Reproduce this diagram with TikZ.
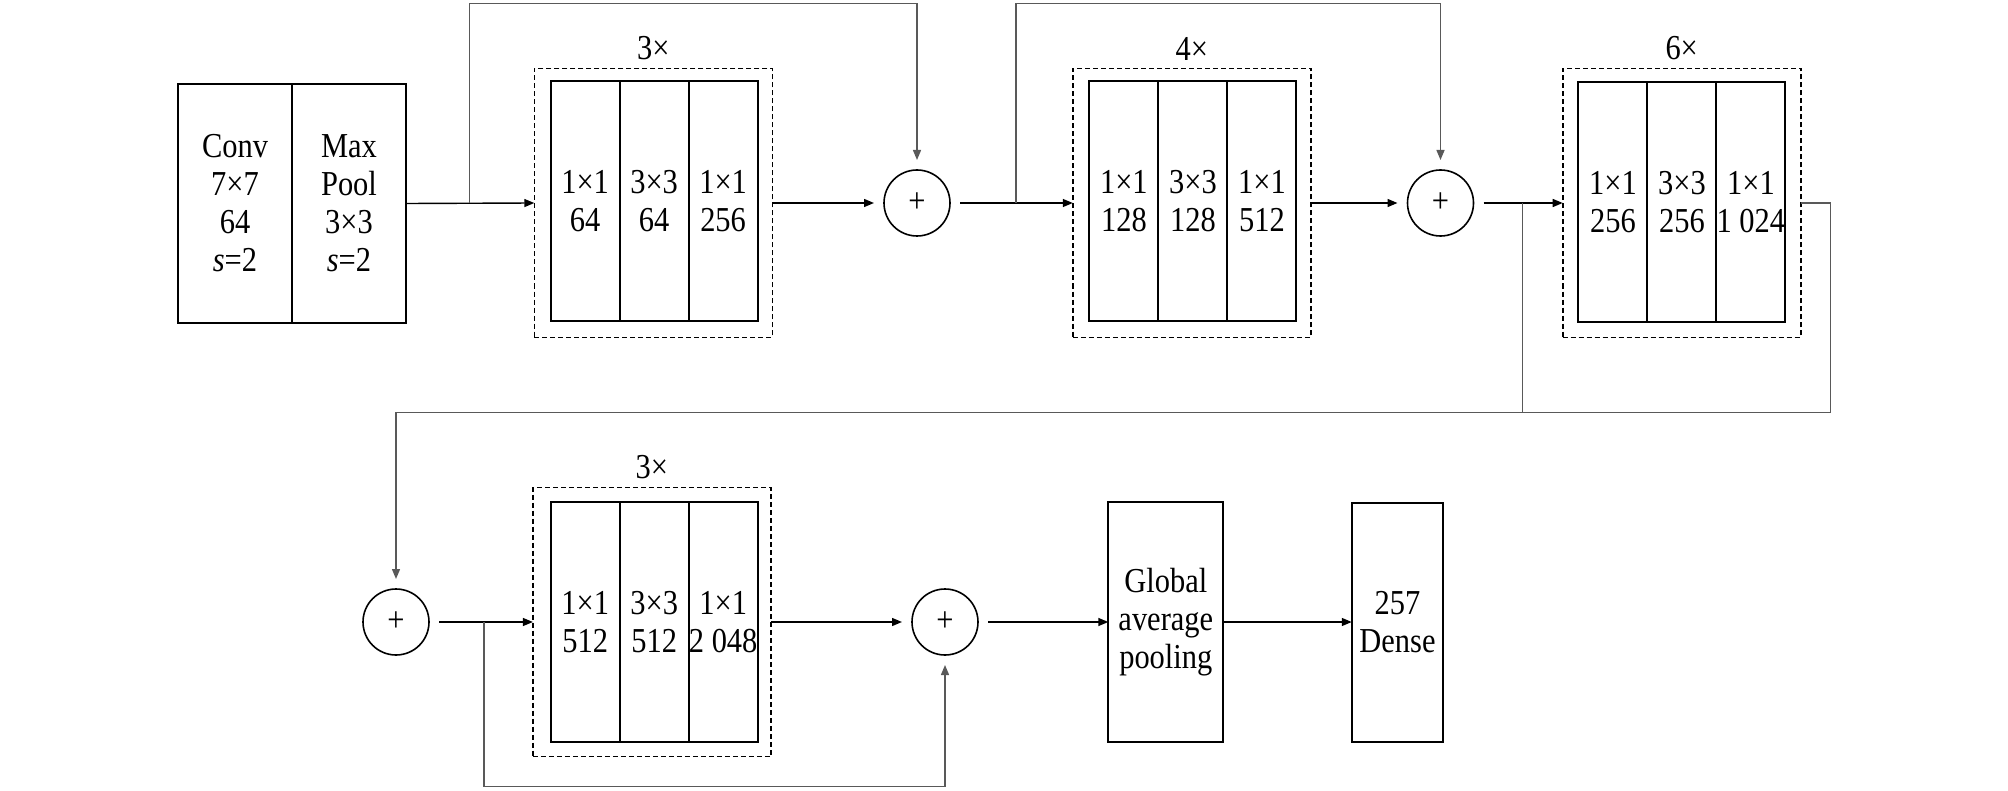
\documentclass[tikz,border=0pt]{standalone}
\usepackage{fontspec}
\setmainfont{Liberation Serif}[FakeStretch=0.87]
\usetikzlibrary{arrows.meta}
\begin{document}
\begin{tikzpicture}[x=0.5pt,y=-0.5pt,
  txt/.style={font=\fontsize{17.5}{19}\selectfont},
  cell/.style={txt, draw, line width=1pt, inner sep=0pt, outer sep=0pt, align=center, minimum width=34.5pt, minimum height=120pt},
  bigcell/.style={txt, draw, line width=1pt, inner sep=0pt, outer sep=0pt, align=center, minimum width=57pt, minimum height=119.5pt},
  stagebox/.style={draw, dash pattern=on 2.5pt off 1.5pt, line width=0.8pt, inner sep=0pt, outer sep=0pt, minimum width=119pt, minimum height=134.5pt},
  addop/.style={txt, draw, circle, line width=0.8pt, minimum size=33pt, inner sep=0pt, outer sep=5pt},
  flow/.style={line width=0.7pt, -{Triangle[length=5pt,width=4pt]}},
  skipline/.style={line width=0.7pt, draw=black!65},
  skiparrow/.style={skipline, -{Triangle[length=5pt,width=4pt]}},
  rep/.style={txt, inner sep=0pt, anchor=south, yshift=4pt},
]
\useasboundingbox (0,0) rectangle (2008,791);

% ---------- row 1 ----------
\node[bigcell] (conv) at (235,203.5) {Conv\\7×7\\64\\\textit{s}=2};
\node[bigcell] (pool) at (349,203.5) {Max\\Pool\\3×3\\\textit{s}=2};

\node[stagebox] (d1) at (653.3,203) {};
\node[cell] (s1a) at (585.1,201) {1×1\\64};
\node[cell] (s1b) at (654.1,201) {3×3\\64};
\node[cell] (s1c) at (723.1,201) {1×1\\256};
\node[rep] (l1) at (d1.north) {3×};

\node[addop] (p1) at (917,203) {+};

\node[stagebox] (d2) at (1191.8,203) {};
\node[cell] (s2a) at (1123.9,201) {1×1\\128};
\node[cell] (s2b) at (1192.9,201) {3×3\\128};
\node[cell] (s2c) at (1261.9,201) {1×1\\512};
\node[rep] (l2) at (d2.north) {4×};

\node[addop] (p2) at (1440.5,203) {+};

\node[stagebox] (d3) at (1681.7,203) {};
\node[cell] (s3a) at (1612.9,202.3) {1×1\\256};
\node[cell] (s3b) at (1681.9,202.3) {3×3\\256};
\node[cell] (s3c) at (1750.9,202.3) {1×1\\1 024};
\node[rep] (l3) at (d3.north) {6×};

% ---------- row 2 ----------
\node[addop] (p3) at (396,622) {+};

\node[stagebox] (d4) at (651.9,622) {};
\node[cell] (s4a) at (585.2,622) {1×1\\512};
\node[cell] (s4b) at (654.2,622) {3×3\\512};
\node[cell] (s4c) at (723.2,622) {1×1\\2 048};
\node[rep] (l4) at (d4.north) {3×};

\node[addop] (p4) at (945,622) {+};

\node[bigcell, minimum width=57.5pt, minimum height=120pt] (gap) at (1165.8,622) {Global\\average\\pooling};
\node[bigcell, minimum width=45.75pt, minimum height=119.5pt] (dense) at (1397.5,622) {257\\Dense};

% ---------- coordinates ----------
\coordinate (k1) at (469.4,203);
\coordinate (t1) at (469.4,3.5);
\coordinate (k2) at (1016,203);
\coordinate (t2) at (1016,3.5);
\coordinate (k3) at (1522.5,203);
\coordinate (j3) at (1522.5,412.5);
\coordinate (r3a) at (1830.4,203);
\coordinate (r3b) at (1830.4,412.5);
\coordinate (k4) at (483.8,622);
\coordinate (b4) at (483.8,786.5);

% ---------- connectors ----------
\draw[flow] (pool.east) -- (d1.west);
\draw[skiparrow] (k1) -- (t1) -| (p1.north);
\draw[flow] (d1.east) -- (p1.west);
\draw[flow] (p1.east) -- (d2.west);
\draw[skiparrow] (k2) -- (t2) -| (p2.north);
\draw[flow] (d2.east) -- (p2.west);
\draw[flow] (p2.east) -- (d3.west);
\draw[skipline] (k3) -- (j3);
\draw[skiparrow] (d3.east) -- (r3a) -- (r3b) -| (p3.north);
\draw[flow] (p3.east) -- (d4.west);
\draw[skiparrow] (k4) -- (b4) -| (p4.south);
\draw[flow] (d4.east) -- (p4.west);
\draw[flow] (p4.east) -- (gap.west);
\draw[flow] (gap.east) -- (dense.west);
\end{tikzpicture}
\end{document}
